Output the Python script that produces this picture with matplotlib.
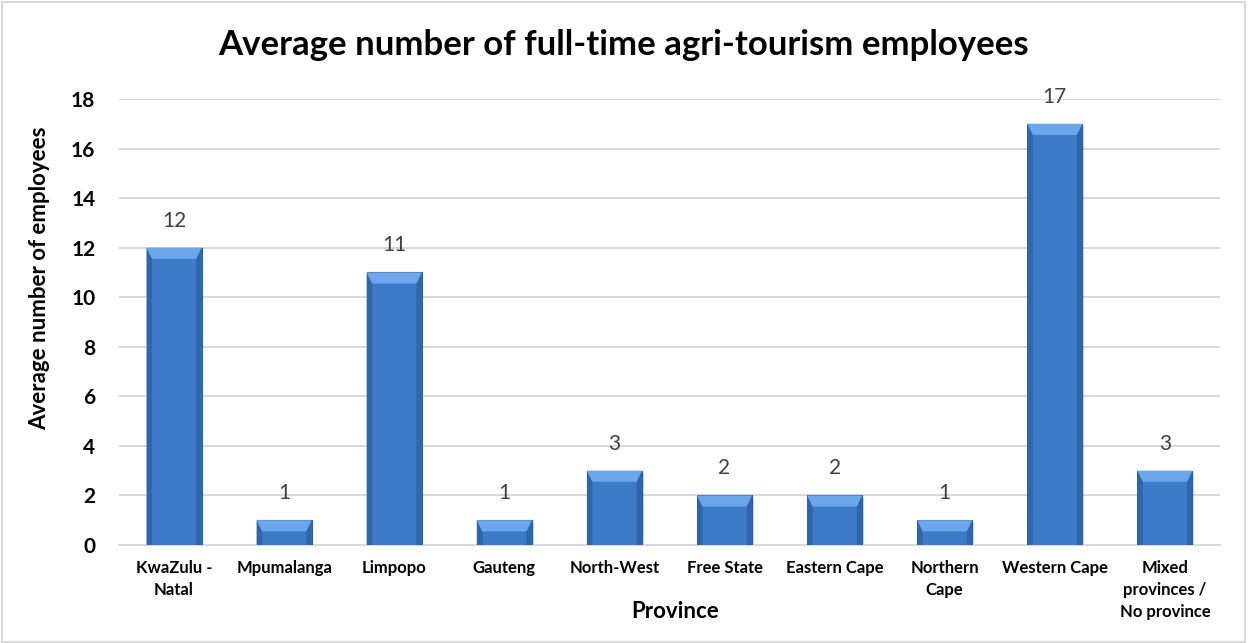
import matplotlib
matplotlib.use("Agg")
import matplotlib.pyplot as plt
from matplotlib.patches import Polygon, Rectangle

plt.rcParams['font.family'] = ['Lato', 'DejaVu Sans']

provinces = ['KwaZulu -\nNatal', 'Mpumalanga', 'Limpopo', 'Gauteng', 'North-West',
             'Free State', 'Eastern Cape', 'Northern\nCape', 'Western Cape',
             'Mixed\nprovinces /\nNo province']
employees = [12, 1, 11, 1, 3, 2, 2, 1, 17, 3]

W, H = 1248, 643
fig = plt.figure(figsize=(W / 100, H / 100), dpi=100)
ax = fig.add_axes([119 / W, 1 - 545 / H, (1220 - 119) / W, (545 - 99) / H])

# outer frame of the chart area
fig.patches.append(Rectangle((2 / W, 1 / H), 1243 / W, 640 / H,
                             transform=fig.transFigure, fill=False,
                             edgecolor='#d9d9d9', linewidth=1.5))

width = 0.5
bx = 0.05    # side bevel in data x units
by = 0.45    # top bevel in data y units
xs = range(len(employees))
for x, v in zip(xs, employees):
    left, right = x - width / 2, x + width / 2
    # soft shadow
    ax.add_patch(Rectangle((left + 0.015, -0.06), width, v - 0.04, facecolor='#000000',
                           alpha=0.15, linewidth=0, zorder=2, clip_on=False))
    ax.bar(x, v, width=width, color='#3d7bc8', edgecolor='#2d5f9c',
           linewidth=0.8, zorder=3)
    # darker side bevels
    ax.add_patch(Polygon([(left, 0), (left + bx, 0), (left + bx, v - by), (left, v)],
                         closed=True, facecolor='#2f66aa', linewidth=0, zorder=4))
    ax.add_patch(Polygon([(right, 0), (right - bx, 0), (right - bx, v - by), (right, v)],
                         closed=True, facecolor='#2f66aa', linewidth=0, zorder=4))
    # lighter top bevel
    ax.add_patch(Polygon([(left, v), (right, v), (right - bx, v - by), (left + bx, v - by)],
                         closed=True, facecolor='#6ba7ea', linewidth=0, zorder=4))
    ax.annotate(str(v), (x, v), xytext=(0, 19.5), textcoords='offset points',
                ha='center', va='center', fontsize=15, color='#404040', zorder=5)

ax.set_xlim(-0.5, len(employees) - 0.5)
ax.set_ylim(0, 18)
ax.set_yticks(range(0, 19, 2))
ax.set_xticks(list(xs))
ax.set_xticklabels(provinces, fontsize=12, fontweight='bold', linespacing=1.45)
ax.tick_params(axis='y', labelsize=15, length=0, pad=17)
ax.tick_params(axis='x', length=0, pad=11)
for lbl in ax.get_yticklabels():
    lbl.set_fontweight('bold')

ax.grid(axis='y', color='#d9d9d9', linewidth=1.5, zorder=0)
ax.set_axisbelow(True)
for side in ['top', 'right', 'left']:
    ax.spines[side].set_visible(False)
ax.spines['bottom'].set_color('#d9d9d9')
ax.spines['bottom'].set_linewidth(1.5)

fig.text(40 / W, 1 - 278 / H, 'Average number of employees', rotation=90,
         ha='center', va='center', fontsize=16, fontweight='bold')
fig.text(675 / W, 1 - 612 / H, 'Province', ha='center', va='center',
         fontsize=16, fontweight='bold')
fig.text(0.5, 1 - 55 / H, 'Average number of full-time agri-tourism employees',
         ha='center', va='baseline', fontsize=25, fontweight='bold')

fig.savefig('out.png', dpi=100)
